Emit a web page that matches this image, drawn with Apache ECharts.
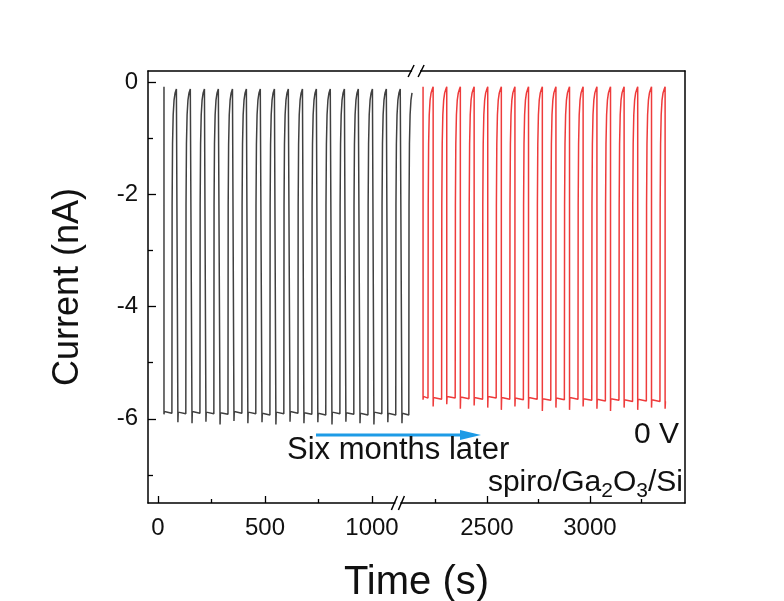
<!DOCTYPE html>
<html>
<head>
<meta charset="utf-8">
<title>Photocurrent stability, spiro/Ga2O3/Si</title>
<script src="https://cdn.jsdelivr.net/npm/echarts@6.0.0/dist/echarts.min.js"></script>
<style>
  html, body { margin: 0; padding: 0; background: #ffffff; }
  #main { width: 784px; height: 601px; }
</style>
</head>
<body>
<div id="main"></div>
<script>
// ---- measured switching cycles (time in s, current in nA) ----
// fresh device
const freshOn    = [28, 93, 159, 224, 290, 355, 420, 486, 551, 617, 682, 747, 813, 878, 944, 1009, 1074, 1140];
const freshOff   = [65, 130, 196, 261, 327, 392, 457, 523, 588, 654, 719, 784, 850, 915, 981, 1046, 1111, 1172];
const freshLevel = [-5.87, -5.88, -5.87, -5.88, -5.89, -5.87, -5.88, -5.90, -5.88, -5.87, -5.89, -5.90, -5.88, -5.89, -5.90, -5.88, -5.90, -5.90];
const freshSpike = [-5.92, -6.06, -6.08, -6.05, -6.10, -6.04, -6.08, -6.06, -6.10, -6.05, -6.08, -6.06, -6.10, -6.05, -6.08, -6.10, -6.06, -6.08];
const freshEnd   = 1190;

// same device six months later
const agedOn    = [2190, 2239, 2305, 2371, 2438, 2504, 2570, 2636, 2702, 2769, 2835, 2901, 2967, 3034, 3100, 3166, 3232, 3299, 3365];
const agedOff   = [2214, 2280, 2346, 2413, 2479, 2545, 2611, 2677, 2744, 2810, 2876, 2942, 3009, 3075, 3141, 3207, 3274, 3340];
const agedLevel = [-5.60, -5.62, -5.60, -5.61, -5.62, -5.60, -5.62, -5.63, -5.62, -5.64, -5.63, -5.62, -5.64, -5.65, -5.64, -5.66, -5.65, -5.66, -5.70];
const agedSpike = [-5.66, -5.78, -5.74, -5.82, -5.76, -5.80, -5.84, -5.78, -5.82, -5.86, -5.80, -5.84, -5.78, -5.82, -5.86, -5.80, -5.84, -5.80, -5.82];
const agedEnd   = 3370;

// dark current and the decay after the light is switched off: [seconds after off, nA]
const darkLevel = -0.08;
const recovery  = [[1, -2.2], [3, -1.1], [6, -0.58], [10, -0.32], [15, -0.19], [21, -0.12], [27, -0.09]];

// tick labels
const yMajor = [0, -2, -4, -6];
const yMinor = [-1, -3, -5, -7];
const xMajor = [0, 500, 1000, 2500, 3000];
const xMinor = [250, 750, 2250, 2750, 3250];

// ---- broken time axis: left segment 1:1, right segment shifted and slightly compressed ----
const SPLIT = 1600, RIGHT_REF = 2500, RIGHT_REF_U = 1537, RIGHT_SCALE = 0.9626;
function toU(t) { return t <= SPLIT ? t : RIGHT_REF_U + (t - RIGHT_REF) * RIGHT_SCALE; }
function fromU(u) { return u <= SPLIT - 200 ? u : RIGHT_REF + (u - RIGHT_REF_U) / RIGHT_SCALE; }
const U_MIN = -46.7, U_MAX = 2462.6;
const Y_MIN = -7.5, Y_MAX = 0.2;
// break marks on the frame (axis units)
const BREAK_TOP_U = 1206, BREAK_BOTTOM_U = 1121;

function buildTrace(onT, offT, level, spike, endT) {
  const pts = [[onT[0], darkLevel]];
  for (let i = 0; i < onT.length; i++) {
    const tOn = onT[i];
    if (i > 0) pts.push([tOn, darkLevel]);
    pts.push([tOn, spike[i]]);
    pts.push([tOn + 1.5, level[i]]);
    const tOff = offT[i];
    if (tOff === undefined) { pts.push([endT, level[i]]); break; }
    pts.push([tOff, level[i] - 0.03]);
    const next = i + 1 < onT.length ? onT[i + 1] : endT;
    for (const [dt, v] of recovery) {
      if (tOff + dt < next && tOff + dt <= endT) pts.push([tOff + dt, v]);
    }
    if (i + 1 >= onT.length) { pts.push([endT, pts[pts.length - 1][1]]); break; }
  }
  return pts.map(p => [toU(p[0]), p[1]]);
}

const FONT = "'Liberation Sans', Arial, Helvetica, sans-serif";
const INK = '#111111';
const frameLine = { show: true, onZero: false, lineStyle: { color: '#000000', width: 1.5 } };

const option = {
  animation: false,
  backgroundColor: '#ffffff',
  grid: { left: 148, right: 99, top: 71, bottom: 98, containLabel: false, outerBoundsMode: 'none' },
  xAxis: [
    {
      type: 'value', position: 'bottom', min: U_MIN, max: U_MAX,
      axisLine: frameLine,
      axisTick: { show: true, inside: true, length: 7, customValues: xMajor.map(toU), lineStyle: { color: '#000', width: 1.3 } },
      axisLabel: {
        show: true, customValues: xMajor.map(toU), margin: 13,
        fontFamily: FONT, fontSize: 24, color: INK,
        formatter: v => String(Math.round(fromU(v) / 10) * 10)
      },
      splitLine: { show: false },
      name: 'Time (s)', nameLocation: 'middle', nameGap: 60,
      nameTextStyle: { fontFamily: FONT, fontSize: 40, color: INK }
    },
    {
      type: 'value', position: 'bottom', min: U_MIN, max: U_MAX,
      axisLine: { show: false, onZero: false },
      axisTick: { show: true, inside: true, length: 4, customValues: xMinor.map(toU), lineStyle: { color: '#000', width: 1.3 } },
      axisLabel: { show: false }, splitLine: { show: false }
    },
    {
      type: 'value', position: 'top', min: U_MIN, max: U_MAX,
      axisLine: frameLine, axisTick: { show: false }, axisLabel: { show: false }, splitLine: { show: false }
    }
  ],
  yAxis: [
    {
      type: 'value', position: 'left', min: Y_MIN, max: Y_MAX,
      axisLine: frameLine,
      axisTick: { show: true, inside: true, length: 8, customValues: yMajor, lineStyle: { color: '#000', width: 1.3 } },
      axisLabel: { show: true, customValues: yMajor, margin: 10, fontFamily: FONT, fontSize: 24, color: INK, formatter: v => String(v) },
      splitLine: { show: false },
      name: 'Current (nA)', nameLocation: 'middle', nameGap: 62,
      nameTextStyle: { fontFamily: FONT, fontSize: 36, color: INK }
    },
    {
      type: 'value', position: 'left', min: Y_MIN, max: Y_MAX,
      axisLine: { show: false, onZero: false },
      axisTick: { show: true, inside: true, length: 5, customValues: yMinor, lineStyle: { color: '#000', width: 1.3 } },
      axisLabel: { show: false }, splitLine: { show: false }
    },
    {
      type: 'value', position: 'right', min: Y_MIN, max: Y_MAX,
      axisLine: frameLine, axisTick: { show: false }, axisLabel: { show: false }, splitLine: { show: false }
    }
  ],
  series: [
    {
      name: 'fresh', type: 'line', xAxisIndex: 0, yAxisIndex: 0,
      data: buildTrace(freshOn, freshOff, freshLevel, freshSpike, freshEnd),
      showSymbol: false, smooth: false,
      lineStyle: { color: '#404040', width: 1.5 }, itemStyle: { color: '#404040' }, z: 3
    },
    {
      name: 'aged', type: 'line', xAxisIndex: 0, yAxisIndex: 0,
      data: buildTrace(agedOn, agedOff, agedLevel, agedSpike, agedEnd),
      showSymbol: false, smooth: false,
      lineStyle: { color: '#ee3b3b', width: 1.5 }, itemStyle: { color: '#ee3b3b' }, z: 3
    }
  ]
};

const chart = echarts.init(document.getElementById('main'), null, { renderer: 'canvas' });
chart.setOption(option);

// annotations and axis-break marks, placed from the axis scales
const xPx = u => chart.convertToPixel({ xAxisIndex: 0 }, u);
const yPx = v => chart.convertToPixel({ yAxisIndex: 0 }, v);
const yTop = yPx(Y_MAX), yBottom = yPx(Y_MIN);

function breakMark(cx, cy, spacing, half, slant) {
  const a = cx - spacing / 2, b = cx + spacing / 2;
  return [
    { type: 'rect', shape: { x: a + 1, y: cy - 2, width: spacing - 2, height: 4 }, style: { fill: '#ffffff' }, z: 20 },
    { type: 'line', shape: { x1: a - slant, y1: cy + half, x2: a + slant, y2: cy - half }, style: { stroke: '#000', lineWidth: 1.5 }, z: 21 },
    { type: 'line', shape: { x1: b - slant, y1: cy + half, x2: b + slant, y2: cy - half }, style: { stroke: '#000', lineWidth: 1.5 }, z: 21 }
  ];
}

const arrowY = 435, arrowX1 = 316, arrowX2 = 481;
chart.setOption({
  graphic: [
    ...breakMark(xPx(BREAK_TOP_U), yTop, 10, 6, 3),
    ...breakMark(xPx(BREAK_BOTTOM_U), yBottom, 7, 7, 3),
    { type: 'line', shape: { x1: arrowX1, y1: arrowY, x2: arrowX2 - 16, y2: arrowY }, style: { stroke: '#1d9be6', lineWidth: 3 }, z: 10 },
    { type: 'polygon', shape: { points: [[arrowX2 - 21, arrowY - 5], [arrowX2, arrowY], [arrowX2 - 21, arrowY + 5]] }, style: { fill: '#1d9be6' }, z: 10 },
    { type: 'text', x: 287, y: 450, style: { text: 'Six months later', fontFamily: FONT, fontSize: 31, fill: INK, align: 'left', verticalAlign: 'middle' }, z: 10 },
    { type: 'text', x: 679, y: 435, style: { text: '0 V', fontFamily: FONT, fontSize: 30, fill: INK, align: 'right', verticalAlign: 'middle' }, z: 10 },
    {
      type: 'text', x: 683, y: 468, z: 10,
      style: {
        text: '{m|spiro/Ga}{s|2}{m|O}{s|3}{m|/Si}',
        align: 'right', verticalAlign: 'top',
        rich: {
          m: { fontFamily: FONT, fontSize: 30, lineHeight: 30, verticalAlign: 'top', fill: INK },
          s: { fontFamily: FONT, fontSize: 21, lineHeight: 34, verticalAlign: 'bottom', fill: INK }
        }
      }
    }
  ]
});
</script>
</body>
</html>
